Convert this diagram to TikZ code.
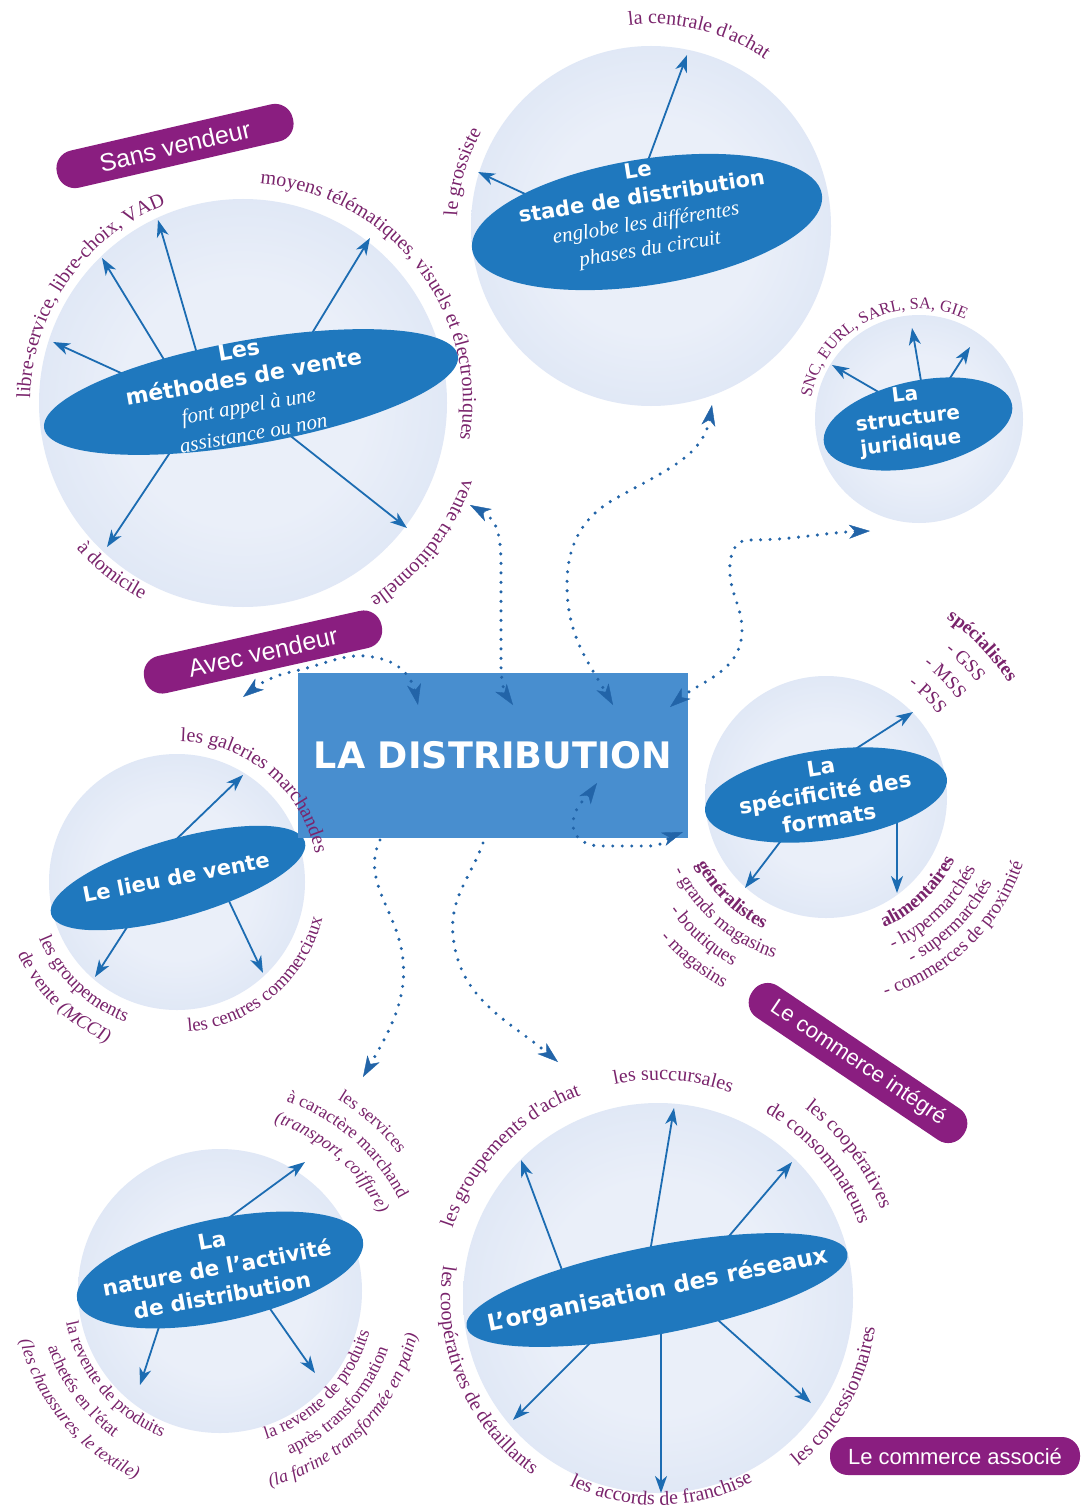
\documentclass[tikz,border=0pt]{standalone}
\usepackage{fontspec}
\usetikzlibrary{shapes.geometric,arrows.meta,decorations.text,calc}
\newfontfamily\dvsans{DejaVu Sans}
\newfontfamily\lsans{Liberation Sans}
\newfontfamily\lserif{Liberation Serif}
\definecolor{lbl}{RGB}{122,36,108}
\definecolor{tagpurple}{RGB}{138,30,128}
\definecolor{ellblue}{RGB}{31,120,190}
\definecolor{rectblue}{RGB}{72,142,207}
\definecolor{arrblue}{RGB}{28,108,178}
\definecolor{dotblue}{RGB}{34,100,168}
\definecolor{globeIn}{RGB}{234,239,249}
\definecolor{globeMid}{RGB}{210,222,241}
\definecolor{globeOut}{RGB}{190,206,233}
\pgfdeclareradialshading{globeshade}{\pgfpoint{0bp}{0bp}}{color(0bp)=(globeIn); color(15bp)=(globeIn); color(40bp)=(globeMid); color(50bp)=(globeOut); color(55bp)=(globeOut)}
% fonts
\newcommand\headfont[2]{\dvsans\bfseries\fontsize{#1}{#2}\selectfont}
\newcommand\subtxt{\lserif\mdseries\itshape\fontsize{21}{27}\selectfont}
\newcommand\lblfont{\lserif\fontsize{20}{23}\selectfont\color{lbl}}
\newcommand\smlfont{\lserif\fontsize{19}{22}\selectfont\color{lbl}}
\newcommand\tinyfont{\lserif\fontsize{18}{21}\selectfont\color{lbl}}
% curved labels: center, baseline radius, middle angle, text
\newcommand\arcout[4]{%
  \path[decorate,decoration={text along path,text align=center,text={#4}}]
    ([shift={({#3+85}:#2pt)}]#1) arc[start angle={#3+85},end angle={#3-85},radius=#2pt];}
\newcommand\arcin[4]{%
  \path[decorate,decoration={text along path,text align=center,text={#4}}]
    ([shift={({#3-85}:#2pt)}]#1) arc[start angle={#3-85},end angle={#3+85},radius=#2pt];}
\begin{document}
\begin{tikzpicture}[x=1pt,y=1pt,
  globe/.style={circle,inner sep=0pt,shade,shading=globeshade},
  blob/.style={ellipse,inner sep=0pt,fill=ellblue},
  head/.style={text=white,align=center,inner sep=0pt},
  arr/.style={draw=arrblue,line width=1.8pt,-{Stealth[length=17pt,width=12pt,inset=5pt]}},
  dotline/.style={draw=dotblue,line width=3.4pt,line cap=round,dash pattern=on 0pt off 9.5pt,
    >={Stealth[length=21pt,width=14pt,inset=6pt,line width=0.4pt]}},
  tag/.style={fill=tagpurple,rounded corners=18pt,text=white,inner sep=0pt,minimum height=38pt}]
\useasboundingbox (0,0) rectangle (1083,-1506);
\fill[white] (0,0) rectangle (1083,-1506);

% spheres
\coordinate (cA) at (243,-403);
\coordinate (cB) at (651,-226);
\coordinate (cC) at (919,-419);
\coordinate (cD) at (826,-797);
\coordinate (cE) at (177,-882);
\coordinate (cF) at (220,-1291);
\coordinate (cG) at (658,-1298);
\node[globe,minimum size=408pt] (sA) at (cA) {};
\node[globe,minimum size=360pt] (sB) at (cB) {};
\node[globe,minimum size=208pt] (sC) at (cC) {};
\node[globe,minimum size=242pt] (sD) at (cD) {};
\node[globe,minimum size=256pt] (sE) at (cE) {};
\node[globe,minimum size=284pt] (sF) at (cF) {};
\node[globe,minimum size=390pt] (sG) at (cG) {};

% spokes from each theme to its items
\foreach \n/\sx/\sy/\tx/\ty in {
  A1/110/368/53/342, A2/160/353/102/258, A3/193/340/158/220,
  A4/317/325/370/238, A5/163/463/107/547, A6/302/445/407/528,
  B1/523/193/478/172, B2/650/155/687/55,
  C1/863/383/832/365, C2/920/375/912/328, C3/952/375/970/347,
  D1/857/748/913/712, D2/780/842/745/888, D3/897/827/897/893,
  E1/188/828/243/775, E2/122/935/95/977, E3/237/918/263/973,
  F1/230/1217/305/1162, F2/158/1330/140/1385, F3/273/1313/315/1373,
  G1/562/1270/521/1160, G2/650/1252/674/1108, G3/724/1242/792/1162,
  G4/581/1352/513/1420, G5/661/1353/661/1493, G6/737/1337/811/1403}{
  \coordinate (\n s) at (\sx,-\sy);
  \coordinate (\n t) at (\tx,-\ty);
  \draw[arr] ($(\n s)!-28pt!(\n t)$) -- (\n t);
}

% theme ellipses
\node[blob,minimum width=420pt,minimum height=104pt,rotate=10] (eA) at (251,-392) {};
\node[blob,minimum width=354pt,minimum height=126pt,rotate=9] (eB) at (647,-222) {};
\node[blob,minimum width=192pt,minimum height=86pt,rotate=12] (eC) at (918,-424) {};
\node[blob,minimum width=244pt,minimum height=90pt,rotate=8] (eD) at (826,-795) {};
\node[blob,minimum width=264pt,minimum height=78pt,rotate=16] (eE) at (178,-878) {};
\node[blob,minimum width=292pt,minimum height=102pt,rotate=12] (eF) at (220,-1270) {};
\node[blob,minimum width=388pt,minimum height=88pt,rotate=11] (eG) at (657,-1290) {};

\node[head,rotate=10,font=\headfont{22}{28}] (tA) at (246,-391)
  {Les\\méthodes de vente\\{\subtxt font appel à une}\\{\subtxt assistance ou non}};
\node[head,rotate=9,font=\headfont{21}{26}] (tB) at (644,-211)
  {Le\\stade de distribution\\{\subtxt englobe les différentes}\\{\subtxt phases du circuit}};
\node[head,rotate=7,font=\headfont{20}{24}] (tC) at (908,-420) {La\\structure\\juridique};
\node[head,rotate=9,font=\headfont{21.5}{26}] (tD) at (825,-793) {La\\spécificité des\\formats};
\node[head,rotate=11,font=\headfont{21}{26}] (tE) at (176,-877) {Le lieu de vente};
\node[head,rotate=10.5,font=\headfont{21.5}{28}] (tF) at (217,-1268) {La\\nature de l’activité\\de distribution};
\node[head,rotate=11.5,font=\headfont{23}{28}] (tG) at (658,-1290) {L’organisation des réseaux};

% central box
\node[fill=rectblue,minimum width=390pt,minimum height=165pt,inner sep=0pt,text=white,
  font=\dvsans\bfseries\fontsize{36.5}{40}\selectfont] (dist) at (493,-755.5) {LA DISTRIBUTION};

% curved item labels
\arcout{cA}{213}{145}{|\lblfont|libre-service, libre-choix, VAD}
\arcout{cA}{220}{38}{|\lblfont|moyens télématiques, visuels et électroniques}
\arcout{cA}{233}{-38}{|\lblfont|vente traditionnelle}
\arcin{cA}{221}{232}{|\lblfont|à domicile}
\arcout{cB}{194}{164}{|\lblfont|le grossiste}
\arcout{cB}{202}{76}{|\lblfont|la centrale d'achat}
\arcout{cC}{110}{117}{|\lblfont\fontsize{16.5}{19}\selectfont|SNC, EURL, SARL, SA, GIE}
\arcout{cD}{215}{44}{|\smlfont\bfseries|spécialistes}
\arcout{cD}{189}{44}{|\smlfont|- GSS}
\arcout{cD}{164}{45}{|\smlfont|- MSS}
\arcout{cD}{139}{45}{|\smlfont|- PSS}
\arcin{cD}{146}{226}{|\smlfont\bfseries|généralistes}
\arcin{cD}{169}{229}{|\smlfont|- grands magasins}
\arcin{cD}{193}{228.5}{|\smlfont|- boutiques}
\arcin{cD}{217}{231}{|\smlfont|- magasins}
\arcin{cD}{143}{314}{|\smlfont\bfseries|alimentaires}
\arcin{cD}{166}{314}{|\smlfont|- hypermarchés}
\arcin{cD}{187}{315}{|\smlfont|- supermarchés}
\arcin{cD}{208}{314}{|\smlfont|- commerces de proximité}
\arcout{cE}{141}{50}{|\lblfont|les galeries marchandes}
\arcin{cE}{149}{226}{|\smlfont|les groupements}
\arcin{cE}{175}{225.5}{|\smlfont|de vente |\smlfont\itshape|(MCCI)}
\arcin{cE}{150}{310}{|\smlfont|les centres commerciaux}
\arcout{cF}{225}{48}{|\tinyfont|les services}
\arcout{cF}{201}{49}{|\tinyfont|à caractère marchand}
\arcout{cF}{177}{49}{|\tinyfont\itshape|(transport, coiffure)}
\arcin{cF}{157}{220}{|\tinyfont|la revente de produits}
\arcin{cF}{181}{216}{|\tinyfont|achetés en l'état}
\arcin{cF}{206}{220}{|\tinyfont\itshape|(les chaussures, le textile)}
\arcin{cF}{155}{316}{|\tinyfont|la revente de produits}
\arcin{cF}{178}{317}{|\tinyfont|après transformation}
\arcin{cF}{202}{316}{|\tinyfont\itshape|(la farine transformée en pain)}
\arcout{cG}{217}{136}{|\lblfont|les groupements d'achat}
\arcout{cG}{218}{86}{|\lblfont|les succursales}
\arcout{cG}{240}{37}{|\lblfont|les coopératives}
\arcout{cG}{214}{40}{|\lblfont|de consommateurs}
\arcin{cG}{219}{331}{|\lblfont|les concessionnaires}
\arcin{cG}{207}{271}{|\lblfont|les accords de franchise}
\arcin{cG}{217}{203}{|\lblfont|les coopératives de détaillants}

% dotted links between the central box and the themes
\coordinate (pa1) at (243,-697); \coordinate (pa2) at (418,-705);
\draw[dotline,<->] plot[smooth,tension=0.6] coordinates
  {(pa1) (272,-678) (307,-668) (347,-657) (373,-657) (396,-665) (411,-681) (pa2)};
\coordinate (pb1) at (470,-505); \coordinate (pb2) at (513,-705);
\draw[dotline,<->] (pb1) .. controls (497,-520) and (501,-535) .. (501,-565) -- (501,-665)
  .. controls (501,-685) and (506,-695) .. (pb2);
\coordinate (pc1) at (712,-405); \coordinate (pc2) at (613,-705);
\draw[dotline,<->] (pc1) to[out=-100,in=30] (613,-500) to[out=210,in=90] (567,-585)
  to[out=-90,in=120] (pc2);
\coordinate (pd1) at (870,-531); \coordinate (pd2) at (670,-707);
\draw[dotline,<->] (pd1) to[out=182,in=0] (748,-540) to[out=180,in=95] (730,-575)
  to[out=-85,in=90] (742,-630) to[out=-90,in=40] (pd2);
\coordinate (pe1) at (597,-783); \coordinate (pe2) at (683,-832);
\draw[dotline,<->] (pe1) to[out=235,in=90] (573,-825) to[out=-90,in=180] (600,-846)
  -- (650,-846) to[out=0,in=200] (pe2);
\coordinate (pf1) at (380,-840); \coordinate (pf2) at (363,-1077);
\draw[dotline,->] (pf1) to[out=-115,in=110] (396,-930) to[out=-70,in=60] (pf2);
\coordinate (pg1) at (483,-843); \coordinate (pg2) at (558,-1062);
\draw[dotline,->] (pg1) to[out=-110,in=95] (453,-935) to[out=-85,in=140] (pg2);

% category tags
\node[tag,rotate=13,minimum width=242pt,font=\lsans\fontsize{25}{28}\selectfont] (sansv) at (175,-146) {Sans vendeur};
\node[tag,rotate=12.6,minimum width=243pt,font=\lsans\fontsize{25}{28}\selectfont] (avecv) at (263,-652) {Avec vendeur};
\node[tag,rotate=-34,minimum width=255pt,font=\lsans\fontsize{22}{25}\selectfont] (integ) at (858,-1063) {Le commerce intégré};
\node[tag,minimum width=250pt,font=\lsans\fontsize{22}{25}\selectfont] (assoc) at (955,-1456) {Le commerce associé};
\end{tikzpicture}
\end{document}
